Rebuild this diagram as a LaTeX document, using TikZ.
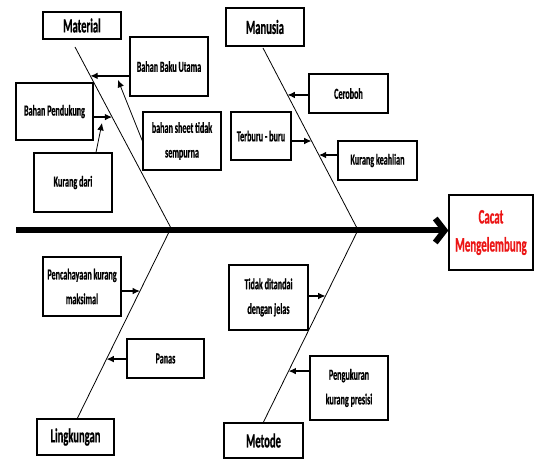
\documentclass[tikz,border=0pt]{standalone}
\usepackage{fontspec}
\setmainfont{Carlito}[FakeStretch=0.53,BoldFont={Carlito Bold},BoldFeatures={FakeBold=0.6}]
\usetikzlibrary{arrows.meta,calc}
\definecolor{effred}{RGB}{235,20,20}
\begin{document}
\begin{tikzpicture}[x=0.75pt,y=-0.75pt,
  box/.style={draw,line width=0.9pt,inner sep=0pt,align=center},
  sz/.style 2 args={minimum width=#1*0.75pt,minimum height=#2*0.75pt},
  head/.style={box,font=\bfseries\fontsize{15}{18}\selectfont},
  cause/.style={box,font=\bfseries\fontsize{11.5}{18.5}\selectfont},
  bone/.style={line width=0.6pt},
  arr/.style={line width=0.9pt,-{Latex[length=5.5pt,width=5pt]}},
  spine/.style={line width=4.5pt,-{Straight Barb[length=7pt,width=18pt]}}]
\useasboundingbox (0,0) rectangle (535,459);
% heads
\node[head,sz={78}{27}] (mat) at (82,25.5) {Material};
\node[head,sz={78}{38}] (man) at (265,27) {Manusia};
\node[head,sz={77}{36}] (lin) at (75.5,437) {Lingkungan};
\node[head,sz={79}{35}] (met) at (263.5,440.5) {Metode};
\node[head,sz={84}{75},text=effred,font=\bfseries\fontsize{15.5}{21}\selectfont] (eff) at (491,232.5) {Cacat\\Mengelembung};
% causes
\node[cause,sz={78}{59}] (bbu) at (169,66.5) {Bahan Baku Utama};
\node[cause,sz={77}{57}] (bp) at (54.5,111.5) {Bahan Pendukung};
\node[cause,sz={78}{59}] (kd) at (73,182.5) {Kurang dari};
\node[cause,sz={78}{58}] (bs) at (182,141) {bahan sheet tidak\\sempurna};
\node[cause,sz={79}{39}] (cer) at (348.5,93.5) {Ceroboh};
\node[cause,sz={60}{48}] (ter) at (261,136) {Terburu - buru};
\node[cause,sz={79}{39}] (kk) at (377.5,160.5) {Kurang keahlian};
\node[cause,sz={78}{59}] (pen) at (82,286.5) {Pencahayaan kurang\\maksimal};
\node[cause,sz={77}{39}] (pan) at (165.5,358.5) {Panas};
\node[cause,sz={79}{65}] (tid) at (268.5,297.5) {Tidak ditandai\\dengan jelas};
\node[cause,sz={78}{64}] (peng) at (349,388) {Pengukuran\\kurang presisi};
% spine
\coordinate (sp) at (16,230.5);
\draw[spine] (sp) -- (sp -| eff.west);
% bones
\coordinate (mA) at (75,47);   \coordinate (mB) at (172,230);
\coordinate (nA) at (263,48);  \coordinate (nB) at (358,230);
\coordinate (lA) at (170,230); \coordinate (lB) at (77,419);
\coordinate (eA) at (358,230); \coordinate (eB) at (263,423);
\draw[bone] (mA) -- (mB);
\draw[bone] (nA) -- (nB);
\draw[bone] (lA) -- (lB);
\draw[bone] (eA) -- (eB);
% arrow targets
\coordinate (tA) at ($(mA)!0.158!(mB)$);
\coordinate (tB) at ($(mA)!0.383!(mB)$);
\coordinate (tC) at ($(nA)!0.258!(nB)$);
\coordinate (tD) at ($(nA)!0.511!(nB)$);
\coordinate (tE) at ($(nA)!0.588!(nB)$);
\coordinate (tF) at ($(lA)!0.323!(lB)$);
\coordinate (tG) at ($(lA)!0.683!(lB)$);
\coordinate (tH) at ($(eA)!0.342!(eB)$);
\coordinate (tI) at ($(eA)!0.731!(eB)$);
\coordinate (tK) at (102,123);
\coordinate (tS) at (118,80);
% arrows
\draw[arr] (bbu.west |- tA) -- (tA);
\draw[arr] (bp.east |- tB) -- (tB);
\draw[arr,line width=0.6pt] ($(kd.north)+(23,0)$) -- (tK);
\draw[arr,line width=0.6pt] (bs.west) -- (tS);
\draw[arr] (cer.west |- tC) -- (tC);
\draw[arr] (ter.east |- tD) -- (tD);
\draw[arr] (kk.west |- tE) -- (tE);
\draw[arr] (pen.east |- tF) -- (tF);
\draw[arr] (pan.west |- tG) -- (tG);
\draw[arr] (tid.east |- tH) -- (tH);
\draw[arr] (peng.west |- tI) -- (tI);
\end{tikzpicture}
\end{document}
